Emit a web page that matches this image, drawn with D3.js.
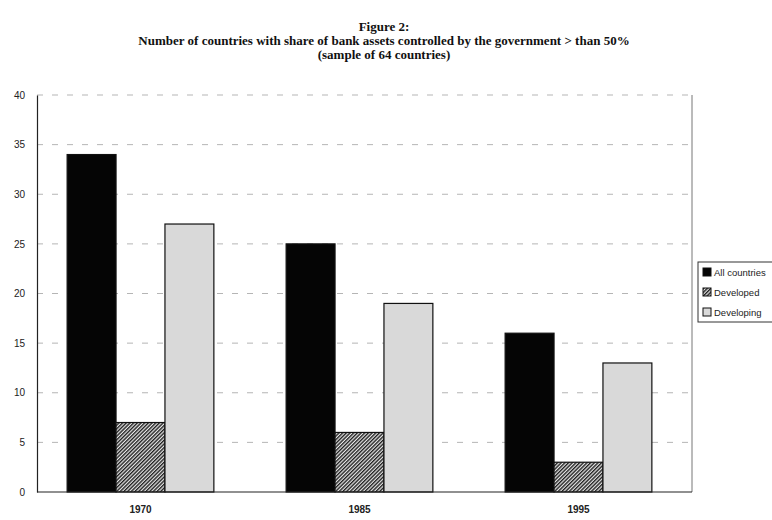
<!DOCTYPE html>
<html>
<head>
<meta charset="utf-8">
<script src="https://cdn.jsdelivr.net/npm/d3@7/dist/d3.min.js"></script>
<style>
  body { margin: 0; background: #fff; }
  text { font-family: "Liberation Sans", Arial, sans-serif; }
</style>
</head>
<body>
<div class="canvas"></div>
<script>
// data
const years = ['1970', '1985', '1995']
const seriesNames = ['All countries', 'Developed', 'Developing']
const allCountries = [34, 25, 16]
const developed = [7, 6, 3]
const developing = [27, 19, 13]
const yTicks = [0, 5, 10, 15, 20, 25, 30, 35, 40]

const width = 772, height = 520
const margin = { top: 95, right: 80, bottom: 28, left: 37 }
const graphWidth = width - margin.left - margin.right
const graphHeight = height - margin.top - margin.bottom

const svg = d3.select('.canvas').append('svg')
    .attr('width', width)
    .attr('height', height)

// hatch for "Developed"
const defs = svg.append('defs')
const hatch = defs.append('pattern')
    .attr('id', 'hatch')
    .attr('patternUnits', 'userSpaceOnUse')
    .attr('width', 2.6).attr('height', 2.6)
    .attr('patternTransform', 'rotate(45)')
hatch.append('rect').attr('width', 2.6).attr('height', 2.6).attr('fill', '#e8e8e8')
hatch.append('rect').attr('width', 1.4).attr('height', 2.6).attr('fill', '#222')

// titles
const titleLines = [
    ['Figure 2:', 31],
    ['Number of countries with share of bank assets controlled by the government > than 50%', 45],
    ['(sample of 64 countries)', 59]
]
svg.selectAll('text.title')
    .data(titleLines)
    .enter()
    .append('text')
    .attr('class', 'title')
    .attr('x', 384).attr('y', d => d[1])
    .attr('text-anchor', 'middle')
    .style('font-family', '"Liberation Serif", serif')
    .style('font-weight', 'bold').style('font-size', '13px')
    .attr('fill', '#111')
    .text(d => d[0])

const graph = svg.append('g')
    .attr('transform', `translate(${margin.left}, ${margin.top})`)

const y = d3.scaleLinear()
    .domain([0, 40])
    .range([graphHeight, 0])

const x = d3.scaleBand()
    .domain(years)
    .range([-6, graphWidth - 4])
    .paddingInner(0.33)
    .paddingOuter(0.165)

const xs = d3.scaleBand()
    .domain(seriesNames)
    .range([0, x.bandwidth()])

const fills = ['#050505', 'url(#hatch)', '#d9d9d9']

// gridlines
graph.append('g')
    .selectAll('line')
    .data(yTicks.filter(d => d > 0))
    .enter()
    .append('line')
    .attr('x1', 0).attr('x2', graphWidth)
    .attr('y1', d => y(d)).attr('y2', d => y(d))
    .attr('stroke', '#b5b5b5')
    .attr('stroke-width', 1)
    .attr('stroke-dasharray', '6,9')

// right frame line
graph.append('line')
    .attr('x1', graphWidth).attr('x2', graphWidth)
    .attr('y1', 0).attr('y2', graphHeight)
    .attr('stroke', '#777')

// bars
const rows = years.map((yr, i) => ({ year: yr, values: [allCountries[i], developed[i], developing[i]] }))

const groups = graph.selectAll('g.group')
    .data(rows)
    .enter()
    .append('g')
    .attr('class', 'group')
    .attr('transform', d => `translate(${x(d.year)}, 0)`)

groups.selectAll('rect')
    .data(d => d.values.map((v, j) => ({ name: seriesNames[j], value: v, j })))
    .enter()
    .append('rect')
    .attr('x', d => xs(d.name))
    .attr('y', d => y(d.value))
    .attr('width', xs.bandwidth())
    .attr('height', d => graphHeight - y(d.value))
    .attr('fill', d => fills[d.j])
    .attr('stroke', '#111')
    .attr('stroke-width', 1.2)

// axes
const yAxis = d3.axisLeft(y).tickValues(yTicks).tickSize(0).tickPadding(12)
const yAxisGroup = graph.append('g').call(yAxis)
yAxisGroup.select('.domain').attr('stroke', '#222').attr('stroke-width', 1.2)
yAxisGroup.selectAll('text')
    .style('font-size', '10px')
    .attr('fill', '#222')

const xAxis = d3.axisBottom(x).tickSize(0).tickPadding(14)
const xAxisGroup = graph.append('g')
    .attr('transform', `translate(0, ${graphHeight})`)
    .call(xAxis)
xAxisGroup.select('.domain').remove()
xAxisGroup.selectAll('text')
    .style('font-size', '10px')
    .style('font-weight', 'bold')
    .attr('fill', '#222')
graph.append('line')
    .attr('x1', 0).attr('x2', graphWidth)
    .attr('y1', graphHeight).attr('y2', graphHeight)
    .attr('stroke', '#222').attr('stroke-width', 1.2)

// legend
const legend = svg.append('g').attr('transform', 'translate(698, 262)')
legend.append('rect')
    .attr('width', 80).attr('height', 60)
    .attr('fill', '#fff')
    .attr('stroke', '#333')

const item = legend.selectAll('g.item')
    .data(seriesNames)
    .enter()
    .append('g')
    .attr('transform', (d, i) => `translate(5, ${6 + i * 20})`)
item.append('rect')
    .attr('width', 8).attr('height', 8)
    .attr('fill', (d, i) => fills[i])
    .attr('stroke', '#111')
item.append('text')
    .attr('x', 11).attr('y', 8)
    .style('font-size', '9.5px')
    .attr('fill', '#222')
    .text(d => d)
</script>
</body>
</html>
